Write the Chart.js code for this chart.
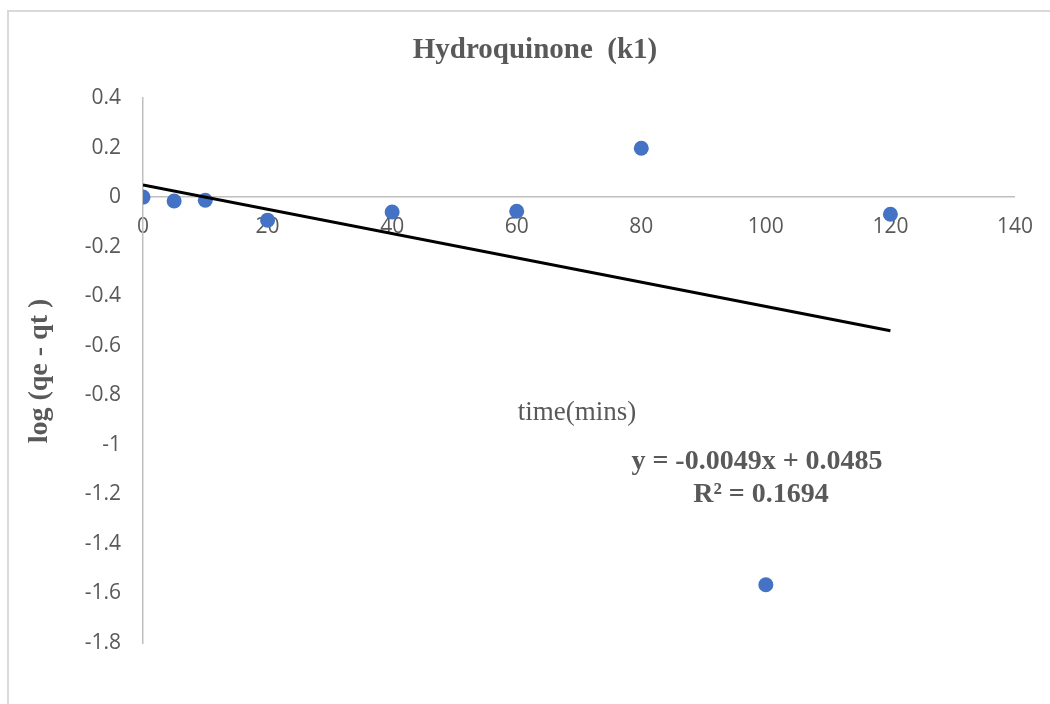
<!DOCTYPE html>
<html>
<head>
 <title>Hydroquinone (k1)</title>
 <script src="https://cdn.jsdelivr.net/npm/chart.js"></script>
 <style>
  body { margin: 0; background: #fff; }
  #wrap { width: 1050px; height: 704px; position: relative; }
 </style>
</head>
<body>
 <div id="wrap">
  <canvas id="kinChart" width="1050" height="704"></canvas>
 </div>

 <script>
  // time (mins) vs log(qe - qt)
  const timeMins = [0, 5, 10, 20, 40, 60, 80, 100, 120];
  const logQ = [0, -0.016, -0.013, -0.093, -0.06, -0.057, 0.197, -1.565, -0.069];

  // linear trendline as reported on the chart
  const slope = -0.0049;
  const intercept = 0.0485;
  const rSquared = 0.1694;
  const trendX = [0, 120];

  const xTicks = { min: 0, max: 140, step: 20 };
  const yTicks = { min: -1.8, max: 0.4, step: 0.2 };

  const grey = '#595959';
  const axisGrey = '#bfbfbf';

  // Excel-like frame, title and floating labels
  const decor = {
   id: 'decor',
   beforeDraw(chart) {
    const c = chart.ctx;
    c.save();
    c.fillStyle = '#fff';
    c.fillRect(0, 0, chart.width, chart.height);
    c.strokeStyle = '#d9d9d9';
    c.lineWidth = 2;
    c.strokeRect(8, 11, 1100, 800);
    c.restore();
   },
   afterDraw(chart) {
    const c = chart.ctx;
    c.save();
    c.fillStyle = grey;
    c.textAlign = 'center';
    c.textBaseline = 'alphabetic';

    c.font = 'bold 29px "Liberation Serif", "Times New Roman", serif';
    c.fillText('Hydroquinone  (k1)', 535, 58);

    c.font = '27px "Liberation Serif", "Times New Roman", serif';
    c.fillText('time(mins)', 577, 420);

    c.font = 'bold 28px "Liberation Serif", "Times New Roman", serif';
    c.fillText('y = ' + slope.toFixed(4) + 'x + ' + intercept.toFixed(4), 757, 469);
    c.fillText('R\u00B2 = ' + rSquared.toFixed(4), 761, 502);

    c.translate(40, 371);
    c.rotate(-Math.PI / 2);
    c.textBaseline = 'middle';
    c.font = 'bold 28px "Liberation Serif", "Times New Roman", serif';
    c.fillText('log (qe - qt )', 0, 0);
    c.restore();
   }
  };

  const ctx = document.getElementById('kinChart').getContext('2d');
  const chart = new Chart(ctx, {
   type: 'scatter',
   data: {
    datasets: [
     {
      label: 'Linear',
      type: 'line',
      data: trendX.map(x => ({ x: x, y: slope * x + intercept })),
      borderColor: '#000',
      borderWidth: 3,
      pointRadius: 0,
      fill: false,
      order: 0
     },
     {
      label: 'log (qe - qt)',
      data: timeMins.map((t, i) => ({ x: t, y: logQ[i] })),
      backgroundColor: '#4472c4',
      borderWidth: 0,
      pointRadius: 7.5,
      order: 1
     }
    ]
   },
   options: {
    responsive: false,
    animation: false,
    layout: { padding: { left: 0, top: 98, right: 35, bottom: 61 } },
    plugins: {
     legend: { display: false },
     tooltip: { enabled: false }
    },
    scales: {
     x: {
      type: 'linear',
      position: { y: 0 },
      min: xTicks.min,
      max: xTicks.max,
      grid: { display: false, drawTicks: false },
      border: { display: true, color: axisGrey, width: 1.5 },
      ticks: {
       stepSize: xTicks.step,
       padding: 17,
       color: grey,
       font: { family: '"Open Sans", sans-serif', size: 21 }
      },
      afterFit: s => { s.height = 0; }
     },
     y: {
      type: 'linear',
      position: 'left',
      min: yTicks.min,
      max: yTicks.max,
      grid: { display: false, drawTicks: false },
      border: { display: true, color: axisGrey, width: 1.5 },
      ticks: {
       stepSize: yTicks.step,
       padding: 22,
       color: grey,
       font: { family: '"Open Sans", sans-serif', size: 21 },
       callback: v => String(Math.round(v * 10) / 10)
      },
      afterFit: s => { s.width = 143; }
     }
    }
   },
   plugins: [decor]
  });
 </script>
</body>
</html>
